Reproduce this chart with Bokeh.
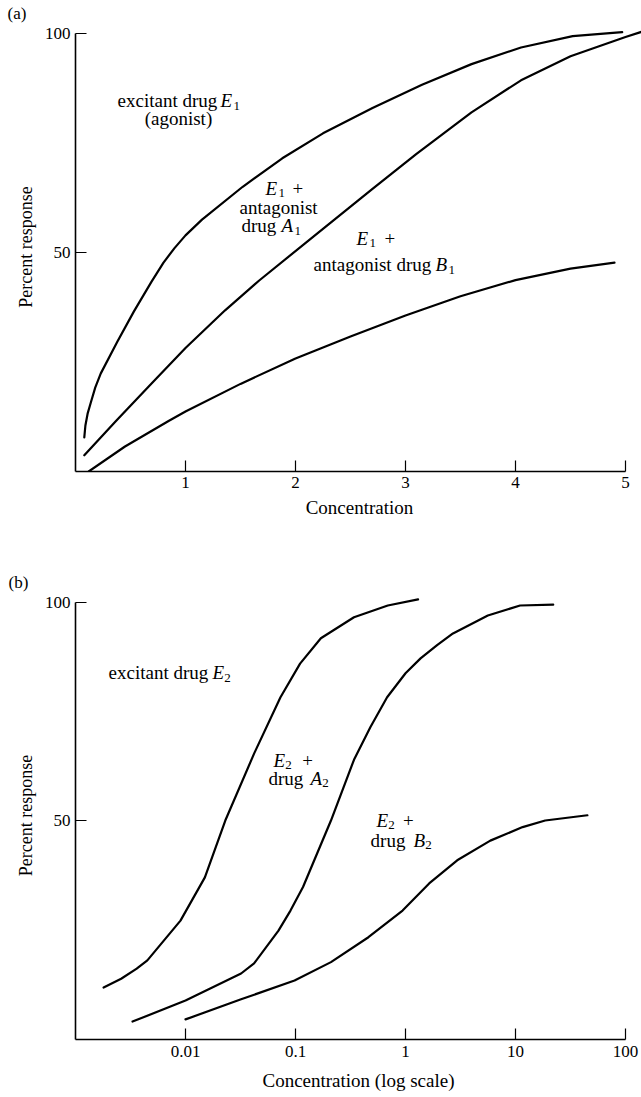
from bokeh.plotting import figure
from bokeh.layouts import column
from bokeh.models import Range1d, FixedTicker, Label, CustomJSTickFormatter, Title
from bokeh.embed import file_html
from bokeh.resources import INLINE

SERIF = "Liberation Serif"

# ---------------- data: panel (a), linear concentration ----------------
a_xticks = [1, 2, 3, 4, 5]
a_yticks = [50, 100]

e1_x = [0.08, 0.09, 0.11, 0.14, 0.18, 0.23, 0.38, 0.53, 0.69, 0.8, 0.9, 1.0, 1.15, 1.52, 1.88, 2.25, 2.7, 3.15, 3.6, 4.05, 4.52, 4.97]
e1_y = [7.8, 10.5, 13.2, 15.8, 19.2, 22.4, 29.6, 36.5, 43.3, 47.7, 51.0, 53.9, 57.5, 65.0, 71.5, 77.2, 83.0, 88.3, 93.0, 96.8, 99.4, 100.3]

a1_x = [0.08, 0.37, 0.7, 1.0, 1.36, 1.67, 2.23, 2.7, 3.1, 3.6, 4.05, 4.5, 5.0, 5.15]
a1_y = [3.7, 11.6, 20.3, 28.2, 36.8, 43.6, 55.0, 64.5, 72.5, 82.0, 89.3, 94.8, 99.2, 100.4]

b1_x = [0.12, 0.45, 0.85, 1.0, 1.5, 2.0, 2.5, 3.0, 3.5, 4.0, 4.5, 4.9]
b1_y = [0.0, 5.7, 11.6, 13.7, 20.0, 25.8, 30.8, 35.6, 40.0, 43.7, 46.3, 47.7]

# ---------------- data: panel (b), log concentration ----------------
b_xticks = [0.01, 0.1, 1, 10, 100]
b_yticks = [50, 100]

e2_x = [0.0018, 0.0026, 0.0036, 0.0045, 0.009, 0.015, 0.023, 0.042, 0.073, 0.11, 0.17, 0.34, 0.69, 1.3]
e2_y = [11.9, 13.9, 16.2, 18.1, 27.2, 37.1, 50.1, 65.4, 78.3, 86.0, 91.8, 96.6, 99.3, 100.7]

a2_x = [0.0033, 0.01, 0.032, 0.042, 0.07, 0.09, 0.117, 0.21, 0.34, 0.48, 0.68, 1.0, 1.37, 1.95, 2.7, 5.6, 11, 22]
a2_y = [4.1, 8.9, 15.1, 17.4, 24.9, 29.5, 34.9, 50.1, 64.0, 71.5, 78.3, 83.8, 87.2, 90.3, 92.9, 97.0, 99.3, 99.5]

b2_x = [0.01, 0.032, 0.098, 0.21, 0.46, 0.94, 1.64, 2.95, 5.9, 11.6, 18.6, 45]
b2_y = [4.6, 9.2, 13.5, 17.7, 23.4, 29.5, 35.7, 41.0, 45.5, 48.6, 50.1, 51.3]


def base_style(p, xticks, xbounds, yticks):
    p.xgrid.visible = False
    p.ygrid.visible = False
    p.outline_line_color = None
    p.background_fill_color = "white"
    p.border_fill_color = "white"
    for ax in (p.xaxis[0], p.yaxis[0]):
        ax.axis_line_color = "black"
        ax.axis_line_width = 1.6
        ax.major_tick_line_color = "black"
        ax.major_tick_line_width = 1.2
        ax.major_tick_in = 11
        ax.major_tick_out = 0
        ax.minor_tick_line_color = None
        ax.major_label_text_font = SERIF
        ax.major_label_text_font_size = "17px"
        ax.major_label_text_color = "black"
        ax.major_label_standoff = 5
        ax.axis_label_text_font = SERIF
        ax.axis_label_text_font_style = "normal"
        ax.axis_label_text_font_size = "18px"
        ax.axis_label_text_color = "black"
    p.xaxis[0].ticker = FixedTicker(ticks=xticks)
    p.xaxis[0].bounds = xbounds
    p.yaxis[0].ticker = FixedTicker(ticks=yticks)
    p.yaxis[0].bounds = (0, 100)
    p.yaxis[0].axis_label = "Percent response"
    p.yaxis[0].axis_label_standoff = 6


def panel_tag(p, text, offset):
    p.title.text = text
    p.title.align = "left"
    p.title.offset = offset
    p.title.standoff = 0
    p.title.text_font = SERIF
    p.title.text_font_size = "17px"
    p.title.text_font_style = "normal"
    p.title.text_color = "black"


def x_title(p, text, offset, standoff):
    p.add_layout(Title(text=text, align="center", offset=offset, standoff=standoff,
                       text_font=SERIF, text_font_size="19px", text_font_style="normal",
                       text_color="black"), "below")


def put(p, x, y, text, size=19, style="normal", align="left"):
    p.add_layout(Label(x=x, y=y, text=text, text_font=SERIF,
                       text_font_size=f"{size}px", text_font_style=style,
                       text_color="black", text_align=align,
                       text_baseline="middle"))


# ---------------- panel (a) ----------------
p1 = figure(frame_width=568, frame_height=449,
            min_border_left=73, min_border_right=0,
            min_border_top=22, min_border_bottom=69,
            x_range=Range1d(0, 5.1636), y_range=Range1d(0, 102.5),
            output_backend="svg", toolbar_location=None)
base_style(p1, a_xticks, (0, 5), a_yticks)
panel_tag(p1, "(a)", -68)
x_title(p1, "Concentration", -12, 9)

for xs, ys in ((e1_x, e1_y), (a1_x, a1_y), (b1_x, b1_y)):
    p1.line(xs, ys, line_color="black", line_width=2.2, line_join="round", line_cap="round")

put(p1, 0.382, 84.7, "excitant drug")
put(p1, 1.318, 84.7, "E", style="italic")
put(p1, 1.436, 83.5, "1", size=13)
put(p1, 0.936, 80.6, "(agonist)", align="center")

put(p1, 1.727, 64.6, "E", style="italic")
put(p1, 1.845, 63.5, "1", size=13)
put(p1, 1.973, 64.6, "+")
put(p1, 1.491, 60.3, "antagonist")
put(p1, 1.509, 56.2, "drug")
put(p1, 1.873, 56.2, "A", style="italic")
put(p1, 1.991, 55.0, "1", size=13)

put(p1, 2.555, 53.2, "E", style="italic")
put(p1, 2.673, 52.1, "1", size=13)
put(p1, 2.809, 53.2, "+")
put(p1, 2.164, 47.3, "antagonist drug")
put(p1, 3.273, 47.3, "B", style="italic")
put(p1, 3.391, 46.1, "1", size=13)

# ---------------- panel (b) ----------------
p2 = figure(frame_width=566, frame_height=448,
            min_border_left=75, min_border_right=0,
            min_border_top=51, min_border_bottom=58,
            x_axis_type="log",
            x_range=Range1d(0.001, 10 ** 2.145), y_range=Range1d(0, 102.5),
            output_backend="svg", toolbar_location=None)
base_style(p2, b_xticks, (0.001, 100), b_yticks)
p2.xaxis[0].formatter = CustomJSTickFormatter(code="return String(tick);")
p2.xaxis[0].major_label_standoff = 6
panel_tag(p2, "(b)", -67)
x_title(p2, "Concentration (log scale)", -15, 17)

for xs, ys in ((e2_x, e2_y), (a2_x, a2_y), (b2_x, b2_y)):
    p2.line(xs, ys, line_color="black", line_width=2.2, line_join="round", line_cap="round")

put(p2, 0.0020, 84.0, "excitant drug")
put(p2, 0.0176, 84.0, "E", style="italic")
put(p2, 0.0225, 82.8, "2", size=13)

put(p2, 0.0631, 63.8, "E", style="italic")
put(p2, 0.0806, 62.7, "2", size=13)
put(p2, 0.1150, 63.8, "+")
put(p2, 0.0568, 59.7, "drug")
put(p2, 0.1369, 59.7, "A", style="italic")
put(p2, 0.1750, 58.6, "2", size=13)

put(p2, 0.545, 50.1, "E", style="italic")
put(p2, 0.697, 49.0, "2", size=13)
put(p2, 0.95, 50.1, "+")
put(p2, 0.481, 45.5, "drug")
put(p2, 1.182, 45.5, "B", style="italic")
put(p2, 1.512, 44.4, "2", size=13)

layout = column(p1, p2, spacing=0)
open("out.html", "w").write(file_html(layout, INLINE))
